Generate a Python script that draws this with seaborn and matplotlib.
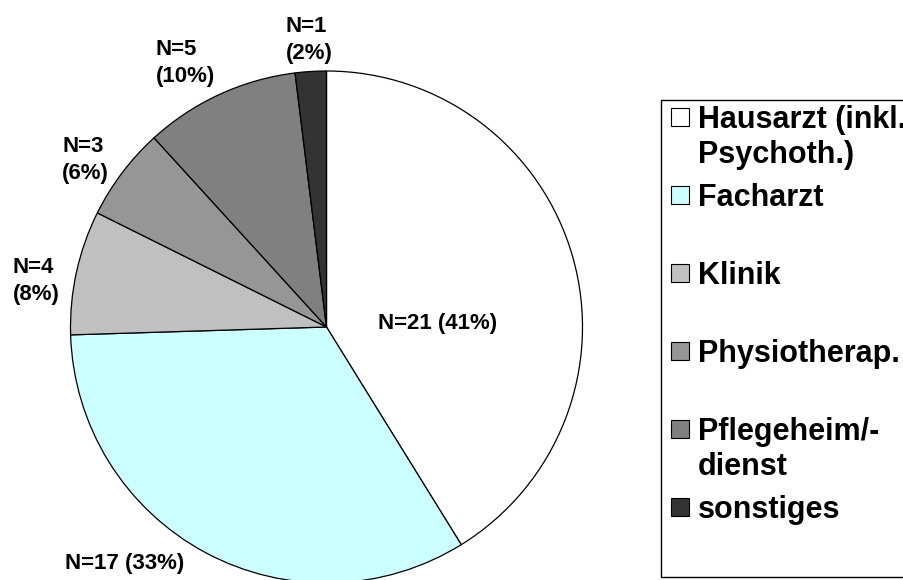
import matplotlib
matplotlib.use("Agg")
import matplotlib.pyplot as plt
from matplotlib.patches import Rectangle
import seaborn as sns

# Data
categories = ["Hausarzt (inkl.\nPsychoth.)", "Facharzt", "Klinik",
              "Physiotherap.", "Pflegeheim/-\ndienst", "sonstiges"]
counts = [21, 17, 4, 3, 5, 1]
slice_colors = ["#FFFFFF", "#CCFFFF", "#C0C0C0", "#969696", "#808080", "#333333"]

# Layout (figure pixels, origin top-left)
W, H = 904, 580
CX, CY, R = 326.5, 327.0, 256.0
# first-line baseline anchors of the slice labels (left aligned)
label_anchor_px = [(378, 329), (65, 569), (13, 273), (62, 152), (156, 55), (286, 32)]
label_two_lines = [False, False, True, True, True, True]
LABEL_LINE_PX = 27

LEG_LEFT, LEG_TOP, LEG_BOTTOM = 661, 100, 577
LEG_FIRST, LEG_PITCH, LEG_LINE = 117, 78, 35
MARK_X, MARK_SIZE, TEXT_X = 671, 18, 698

sns.set_theme(style="white")
plt.rcParams["font.family"] = ["Liberation Sans", "DejaVu Sans"]
plt.rcParams["font.weight"] = "bold"

fig = plt.figure(figsize=(W / 100, H / 100), dpi=100)
fig.patch.set_facecolor("white")

ax = fig.add_axes([(CX - R) / W, (H - CY - R) / H, 2 * R / W, 2 * R / H])
wedges, _ = ax.pie(counts, colors=slice_colors, startangle=90, counterclock=False,
                   wedgeprops=dict(edgecolor="black", linewidth=0.9))
ax.set_xlim(-1, 1)
ax.set_ylim(-1, 1)
ax.set_aspect("equal")
ax.axis("off")
for w in wedges:
    w.set_clip_on(False)

total = sum(counts)
for n, (px, py), two in zip(counts, label_anchor_px, label_two_lines):
    pct = f"({round(100 * n / total)}%)"
    lines = [f"N={n}", pct] if two else [f"N={n} {pct}"]
    x = (px - CX) / R
    y = (CY - py) / R
    for k, line in enumerate(lines):
        ax.annotate(line, xy=(x, y), xytext=(0, -k * LABEL_LINE_PX),
                    textcoords="offset pixels", ha="left", va="baseline",
                    fontsize=16, fontweight="bold", color="black",
                    annotation_clip=False)

# Legend box (runs past the right edge)
fig.add_artist(Rectangle((LEG_LEFT / W, 1 - LEG_BOTTOM / H),
                         (W + 50 - LEG_LEFT) / W, (LEG_BOTTOM - LEG_TOP) / H,
                         transform=fig.transFigure, facecolor="white",
                         edgecolor="black", linewidth=1.0, clip_on=False))

for i, (name, col) in enumerate(zip(categories, slice_colors)):
    yc = LEG_FIRST + i * LEG_PITCH
    fig.add_artist(Rectangle((MARK_X / W, 1 - (yc + MARK_SIZE / 2) / H),
                             MARK_SIZE / W, MARK_SIZE / H,
                             transform=fig.transFigure, facecolor=col,
                             edgecolor="black", linewidth=0.8))
    for k, line in enumerate(name.split("\n")):
        fig.text(TEXT_X / W, 1 - (yc + k * LEG_LINE + 11) / H, line,
                 ha="left", va="baseline", fontsize=22, fontweight="bold",
                 color="black")

fig.savefig("out.png", dpi=100, facecolor="white")
